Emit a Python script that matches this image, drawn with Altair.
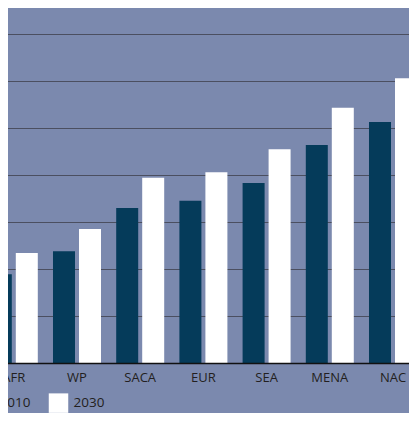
import altair as alt
import pandas as pd

regions = ["AFR", "WP", "SACA", "EUR", "SEA", "MENA", "NAC"]
years = ["2010", "2030"]
values_2010 = [18.9, 23.8, 33.0, 34.5, 38.3, 46.4, 51.3]
values_2030 = [23.4, 28.5, 39.4, 40.6, 45.5, 54.3, 60.6]
grid_values = [0, 10, 20, 30, 40, 50, 60, 70]

rows = []
for r, a, b in zip(regions, values_2010, values_2030):
    rows.append({"region": r, "year": years[0], "value": a})
    rows.append({"region": r, "year": years[1], "value": b})
df = pd.DataFrame(rows)

BG = "#7b89ae"
DARK = "#053b5a"
TEXT = "#231f20"
FONT = "Open Sans"

chart = alt.Chart(df).mark_bar().encode(
    x=alt.X(
        "region:N", sort=regions,
        scale=alt.Scale(paddingInner=0.2405, paddingOuter=0.12025),
        axis=alt.Axis(title=None, labelAngle=0, ticks=False, domainColor="#111111",
                      domainWidth=1.5, labelFontSize=13, labelColor=TEXT, labelPadding=8,
                      zindex=1, labelFont=FONT),
    ),
    xOffset=alt.XOffset("year:N", sort=years, scale=alt.Scale(paddingInner=0.1538, paddingOuter=0)),
    y=alt.Y(
        "value:Q",
        scale=alt.Scale(domain=[0, 75.53], nice=False, zero=True),
        axis=alt.Axis(title=None, labels=False, ticks=False, domain=False, values=grid_values,
                      gridColor="#4b4f60", gridWidth=1),
    ),
    color=alt.Color(
        "year:N",
        scale=alt.Scale(domain=years, range=[DARK, "#ffffff"]),
        legend=alt.Legend(title=None, orient="none", direction="horizontal", legendX=-7.7,
                          legendY=385, symbolType="square", symbolSize=380,
                          symbolStrokeWidth=0, symbolOpacity=1, labelFontSize=13.5,
                          labelColor=TEXT, labelOffset=5, columnPadding=18, labelFont=FONT),
    ),
).properties(
    width=442.4,
    height=355,
    background=BG,
    padding={"left": -25.8, "top": 0, "right": -15.6, "bottom": 50},
    autosize=alt.AutoSizeParams(type="none"),
).configure_view(stroke=None)

chart.save("out.html", embed_options={"renderer": "svg", "actions": False})
